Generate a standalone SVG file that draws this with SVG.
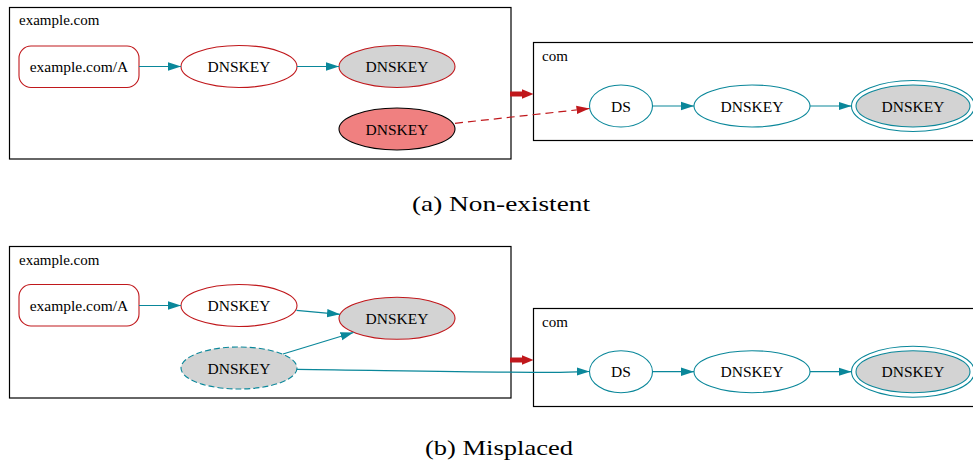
<svg xmlns="http://www.w3.org/2000/svg" width="973" height="465" viewBox="0 0 973 465">
<style>
.box{fill:#fff;stroke:#000;stroke-width:1.2}
.lbl{font-family:'Liberation Serif','Times New Roman','DejaVu Serif',serif;font-size:15px;fill:#000}
.t{font-family:'Liberation Serif','Times New Roman','DejaVu Serif',serif;font-size:15.5px;fill:#000;text-anchor:middle}
.cap{font-family:'Liberation Serif','Times New Roman','DejaVu Serif',serif;font-size:22px;fill:#000;text-anchor:middle}
.rn{fill:#fff;stroke:#c0181c;stroke-width:1.1}
.rg{fill:#d3d3d3;stroke:#c0181c;stroke-width:1.1}
.tn{fill:#fff;stroke:#0a879a;stroke-width:1.1}
.tg{fill:#d3d3d3;stroke:#0a879a;stroke-width:1.1}
.e{fill:none;stroke:#0a879a;stroke-width:1.2}
</style>
<defs>
<marker id="at" markerWidth="14" markerHeight="10" refX="13" refY="5" orient="auto" markerUnits="userSpaceOnUse"><path d="M0,0.8 L13,5 L0,9.2 z" fill="#0a879a"/></marker>
<marker id="ar" markerWidth="14" markerHeight="10" refX="13" refY="5" orient="auto" markerUnits="userSpaceOnUse"><path d="M0,0.8 L13,5 L0,9.2 z" fill="#c0181c"/></marker>
</defs>

<!-- Panel (a) -->
<g id="a-zone-example">
<rect class="box" x="9.5" y="7.5" width="501.5" height="151.5"/>
<text class="lbl" x="19" y="25">example.com</text>
</g>
<g id="a-zone-com">
<rect class="box" x="533.5" y="42.5" width="450" height="98"/>
<text class="lbl" x="542" y="61">com</text>
</g>
<g id="a-rrset"><rect class="rn" x="19" y="46" width="120" height="41.5" rx="12"/><text class="t" x="79" y="72">example.com/A</text></g>
<g id="a-dnskey1"><ellipse class="rn" cx="239" cy="66.5" rx="58" ry="21"/><text class="t" x="239" y="72">DNSKEY</text></g>
<g id="a-dnskey2"><ellipse class="rg" cx="397" cy="66.5" rx="58" ry="21"/><text class="t" x="397" y="72">DNSKEY</text></g>
<g id="a-dnskey3"><ellipse cx="397" cy="129" rx="58" ry="21" fill="#f08080" stroke="#000" stroke-width="1.1"/><text class="t" x="397" y="134.5">DNSKEY</text></g>
<g id="a-ds"><ellipse class="tn" cx="621" cy="106" rx="31.5" ry="21"/><text class="t" x="621" y="111.5">DS</text></g>
<g id="a-com-dnskey1"><ellipse class="tn" cx="752" cy="106" rx="58" ry="21"/><text class="t" x="752" y="111.5">DNSKEY</text></g>
<g id="a-com-dnskey2"><ellipse class="tn" cx="913" cy="106" rx="61.5" ry="25.5"/><ellipse class="tg" cx="913" cy="106" rx="57" ry="21"/><text class="t" x="913" y="111.5">DNSKEY</text></g>

<g id="a-edges">
<line class="e" x1="139" y1="66.5" x2="181" y2="66.5" marker-end="url(#at)"/>
<line class="e" x1="297" y1="66.5" x2="339" y2="66.5" marker-end="url(#at)"/>
<line class="e" x1="652.5" y1="106" x2="694" y2="106" marker-end="url(#at)"/>
<line class="e" x1="810" y1="106" x2="851.5" y2="106" marker-end="url(#at)"/>
<line x1="455" y1="123.3" x2="589.5" y2="108.5" stroke="#c0181c" stroke-width="1.2" stroke-dasharray="8,5" marker-end="url(#ar)"/>
<line x1="510" y1="94" x2="523" y2="94" stroke="#c0181c" stroke-width="5"/>
<path d="M522,89.3 L533.5,94 L522,98.7 z" fill="#c0181c"/>
</g>

<text class="cap" x="501" y="211" textLength="178" lengthAdjust="spacingAndGlyphs">(a) Non-existent</text>

<!-- Panel (b) -->
<g id="b-zone-example">
<rect class="box" x="9.5" y="246.5" width="501.5" height="151.5"/>
<text class="lbl" x="19" y="265">example.com</text>
</g>
<g id="b-zone-com">
<rect class="box" x="533.5" y="308.5" width="450" height="98"/>
<text class="lbl" x="542" y="327">com</text>
</g>
<g id="b-rrset"><rect class="rn" x="19" y="284.5" width="120" height="41.5" rx="12"/><text class="t" x="79" y="310.5">example.com/A</text></g>
<g id="b-dnskey1"><ellipse class="rn" cx="239" cy="305.5" rx="58" ry="21"/><text class="t" x="239" y="311">DNSKEY</text></g>
<g id="b-dnskey2"><ellipse class="rg" cx="397" cy="318.3" rx="58" ry="21"/><text class="t" x="397" y="323.8">DNSKEY</text></g>
<g id="b-dnskey3"><ellipse class="tg" cx="239" cy="368" rx="58" ry="21" stroke-dasharray="6,3"/><text class="t" x="239" y="373.5">DNSKEY</text></g>
<g id="b-ds"><ellipse class="tn" cx="621" cy="371.7" rx="31.5" ry="21"/><text class="t" x="621" y="377.2">DS</text></g>
<g id="b-com-dnskey1"><ellipse class="tn" cx="752" cy="371.7" rx="58" ry="21"/><text class="t" x="752" y="377.2">DNSKEY</text></g>
<g id="b-com-dnskey2"><ellipse class="tn" cx="913" cy="371.7" rx="61.5" ry="25.5"/><ellipse class="tg" cx="913" cy="371.7" rx="57" ry="21"/><text class="t" x="913" y="377.2">DNSKEY</text></g>

<g id="b-edges">
<line class="e" x1="139" y1="305.5" x2="181" y2="305.5" marker-end="url(#at)"/>
<line class="e" x1="296.5" y1="310.3" x2="340" y2="314.3" marker-end="url(#at)"/>
<line class="e" x1="283" y1="354" x2="353.5" y2="332.5" marker-end="url(#at)"/>
<path class="e" d="M297,369.3 C420,371 520,372.8 560,372.4 C575,372.2 580,371.5 589.5,371.5" marker-end="url(#at)"/>
<line class="e" x1="652.5" y1="371.7" x2="694" y2="371.7" marker-end="url(#at)"/>
<line class="e" x1="810" y1="371.7" x2="851.5" y2="371.7" marker-end="url(#at)"/>
<line x1="510" y1="360" x2="523" y2="360" stroke="#c0181c" stroke-width="5"/>
<path d="M522,355.3 L533.5,360 L522,364.7 z" fill="#c0181c"/>
</g>

<text class="cap" x="499" y="455" textLength="148" lengthAdjust="spacingAndGlyphs">(b) Misplaced</text>
</svg>
